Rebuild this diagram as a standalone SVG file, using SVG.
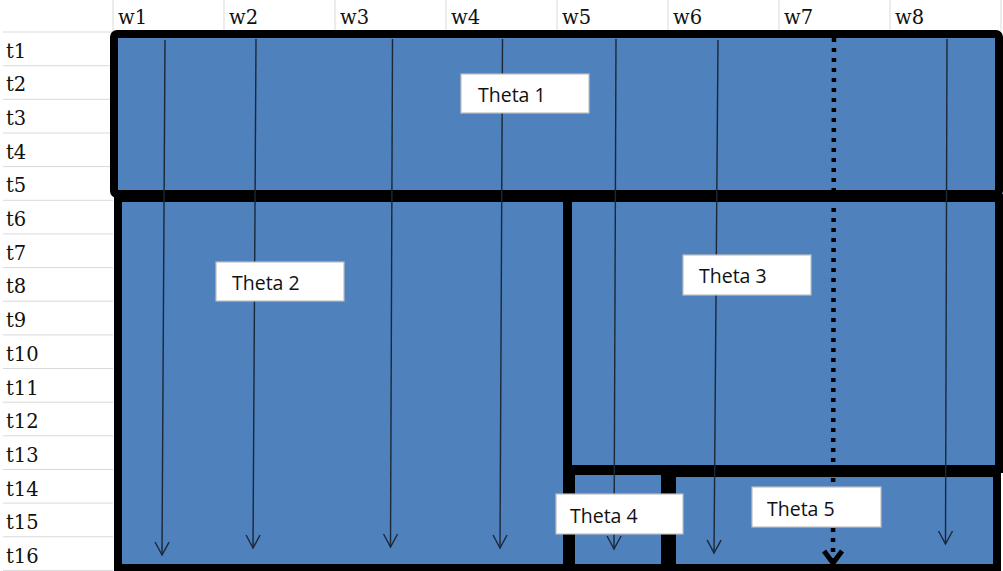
<svg xmlns="http://www.w3.org/2000/svg" width="1003" height="571" viewBox="0 0 1003 571">
  <style>
    .grid { stroke: #D9D9D9; stroke-width: 1; fill: none; }
    .head { font-family: "DejaVu Serif", "Liberation Serif", serif; font-size: 19.5px; fill: #111; }
    .region { fill: #4F81BD; stroke: #000; stroke-width: 8; }
    .flow { stroke: #1B2838; stroke-width: 1.4; fill: none; marker-end: url(#tip); }
    .flow-dot { stroke: #000; stroke-width: 4.5; stroke-dasharray: 4 6; fill: none; marker-end: url(#tip-bold); }
    .tag rect { fill: #fff; stroke: #BFBFBF; stroke-width: 1.2; }
    .tag text { font-family: "Open Sans", "Liberation Sans", sans-serif; font-size: 19.5px; fill: #111; }
  </style>
  <defs>
    <marker id="tip" markerUnits="userSpaceOnUse" orient="auto" markerWidth="20" markerHeight="20" refX="0" refY="0" viewBox="-16 -10 20 20" overflow="visible">
      <path d="M-13,-7 L0,0 L-13,7" fill="none" stroke="#1B2838" stroke-width="1.4"/>
    </marker>
    <marker id="tip-bold" markerUnits="userSpaceOnUse" orient="auto" markerWidth="24" markerHeight="24" refX="0" refY="0" viewBox="-20 -12 24 24" overflow="visible">
      <path d="M-14,-9 L-2,0 L-14,9" fill="none" stroke="#000" stroke-width="5"/>
    </marker>
  </defs>

  <rect x="0" y="0" width="1003" height="571" fill="#fff"/>

  <!-- sheet grid: header columns and time rows -->
  <g id="grid" class="grid">
    <path d="M113,0V31 M224,0V31 M335,0V31 M446,0V31 M557,0V31 M668,0V31 M779,0V31 M890,0V31 M1001,0V31"/>
    <path d="M3,32H113 M3,65.7H113 M3,99.3H113 M3,133H113 M3,166.6H113 M3,200.3H113 M3,233.9H113 M3,267.6H113 M3,301.2H113 M3,334.9H113 M3,368.5H113 M3,402.2H113 M3,435.8H113 M3,469.5H113 M3,503.1H113 M3,536.8H113 M3,570.4H113"/>
  </g>

  <g id="col-heads" class="head">
    <text x="118" y="24">w1</text>
    <text x="229" y="24">w2</text>
    <text x="340" y="24">w3</text>
    <text x="451" y="24">w4</text>
    <text x="562" y="24">w5</text>
    <text x="673" y="24">w6</text>
    <text x="784" y="24">w7</text>
    <text x="895" y="24">w8</text>
  </g>

  <g id="row-heads" class="head">
    <text x="6" y="57.5">t1</text>
    <text x="6" y="91.2">t2</text>
    <text x="6" y="124.9">t3</text>
    <text x="6" y="158.6">t4</text>
    <text x="6" y="192.3">t5</text>
    <text x="6" y="226">t6</text>
    <text x="6" y="259.7">t7</text>
    <text x="6" y="293.4">t8</text>
    <text x="6" y="327.1">t9</text>
    <text x="6" y="360.8">t10</text>
    <text x="6" y="394.5">t11</text>
    <text x="6" y="428.2">t12</text>
    <text x="6" y="461.9">t13</text>
    <text x="6" y="495.6">t14</text>
    <text x="6" y="529.3">t15</text>
    <text x="6" y="563">t16</text>
  </g>

  <!-- parameter regions -->
  <g id="theta1"><rect class="region" x="114" y="34" width="885" height="160" rx="3"/></g>
  <g id="theta2"><rect class="region" x="118" y="198" width="449" height="370"/></g>
  <g id="theta3"><rect class="region" x="568" y="198" width="431" height="271"/></g>
  <g id="theta4"><rect class="region" x="571" y="471" width="94" height="97"/></g>
  <g id="theta5"><rect class="region" x="672" y="473" width="325" height="95"/></g>

  <!-- downward flows per column -->
  <g id="connectors">
    <line class="flow" x1="165" y1="40" x2="162" y2="555"/>
    <line class="flow" x1="256" y1="39" x2="253" y2="548"/>
    <line class="flow" x1="392.5" y1="39" x2="390.5" y2="547"/>
    <line class="flow" x1="502.5" y1="39" x2="500" y2="548"/>
    <line class="flow" x1="616" y1="39" x2="614" y2="549"/>
    <line class="flow" x1="718" y1="40" x2="714" y2="553"/>
    <line class="flow-dot" x1="834" y1="38" x2="833" y2="565"/>
    <line class="flow" x1="947" y1="39" x2="945.5" y2="544"/>
  </g>

  <!-- region labels -->
  <g id="label-theta1" class="tag"><rect x="461" y="74" width="128" height="39"/><text x="478" y="102">Theta 1</text></g>
  <g id="label-theta2" class="tag"><rect x="216" y="262" width="128" height="39"/><text x="232" y="290">Theta 2</text></g>
  <g id="label-theta3" class="tag"><rect x="683" y="255" width="128" height="40"/><text x="699" y="283">Theta 3</text></g>
  <g id="label-theta4" class="tag"><rect x="556" y="494" width="127" height="40"/><text x="570" y="523">Theta 4</text></g>
  <g id="label-theta5" class="tag"><rect x="752" y="487" width="129" height="40"/><text x="767" y="516">Theta 5</text></g>
</svg>
